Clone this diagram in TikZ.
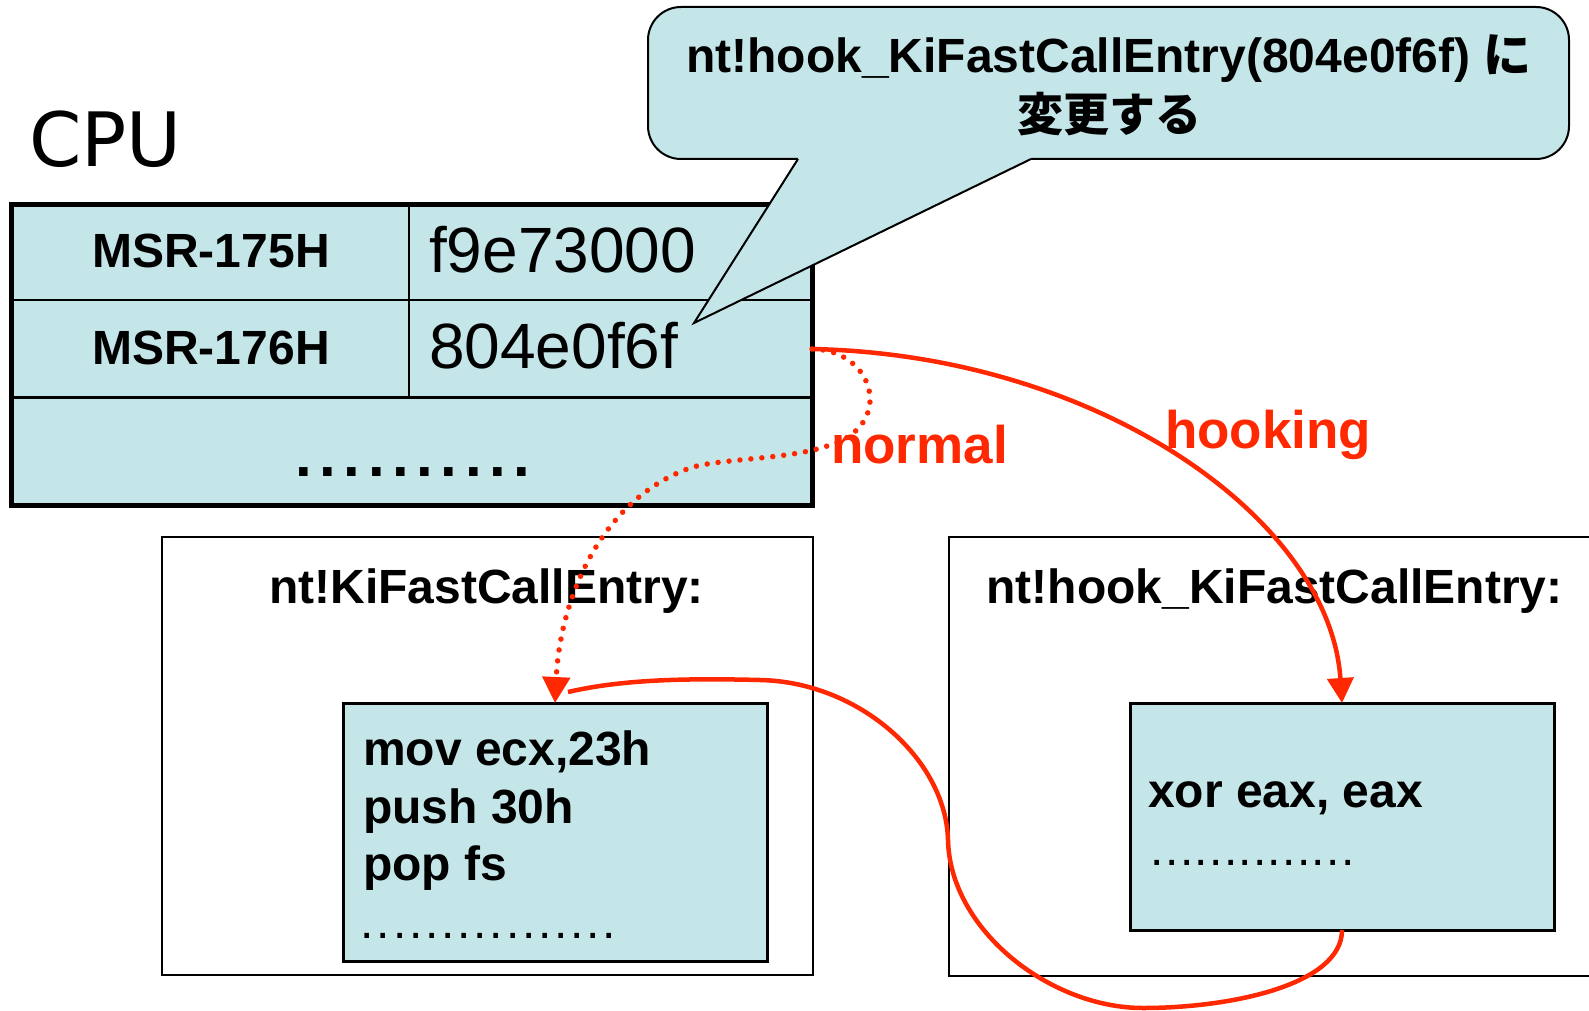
\documentclass[tikz,border=0pt]{standalone}
\usepackage{fontspec}
\setmainfont{Liberation Sans}
\newfontfamily\dejavu{DejaVu Sans}
\newfontfamily\cjk{Noto Sans CJK JP}
\usetikzlibrary{arrows.meta}
\definecolor{cellfill}{RGB}{196,230,232}
\definecolor{hookred}{RGB}{255,40,0}
\newcommand\dk[1]{.\kern#1}
\begin{document}
\begin{tikzpicture}[x=1pt,y=-1pt,
  tablebox/.style={draw, line width=5pt, fill=cellfill, inner sep=0pt, outer sep=0pt},
  framebox/.style={draw, line width=2pt, fill=white, inner sep=0pt, outer sep=0pt},
  codebox/.style={draw, line width=3pt, fill=cellfill, inner sep=0pt, outer sep=0pt},
  callbox/.style={draw, line width=2pt, fill=cellfill, rounded corners=33pt, inner sep=0pt, outer sep=0pt},
  btxt/.style={inner sep=0pt, font=\fontsize{48}{56}\selectfont\bfseries},
  rtxt/.style={inner sep=0pt, font=\fontsize{48}{56}\selectfont},
  valtxt/.style={inner sep=0pt, font=\fontsize{64}{70}\selectfont},
  redlbl/.style={inner sep=0pt, text=hookred, font=\fontsize{53}{60}\selectfont\bfseries},
  hookarrow/.style={draw=hookred, line width=4.5pt, -{Triangle[length=25pt,width=26pt]}},
  normalarrow/.style={draw=hookred, line width=5.5pt, line cap=round, dash pattern=on 0pt off 11pt, -{Triangle[length=26pt,width=27pt]}},
  retline/.style={draw=hookred, line width=4.5pt}
]
\useasboundingbox (0,0) rectangle (1589,1011);

% CPU label
\node[inner sep=0pt, anchor=base west, font=\dejavu\fontsize{75}{80}\selectfont] (cpu) at (29,167) {CPU};

% MSR table
\node[tablebox, minimum width=801pt, minimum height=301pt] (tbl) at (411.5,354.5) {};
\draw[line width=2pt] (11,300) -- (812,300);
\draw[line width=3pt] (11,397) -- (812,397);
\draw[line width=2pt] (409,204) -- (409,397);
\node[btxt, anchor=base] (msr175) at (211,267) {MSR-175H};
\node[btxt, anchor=base] (msr176) at (211,364) {MSR-176H};
\node[valtxt, anchor=base west] (val175) at (429,272) {f9e73000};
\node[valtxt, anchor=base west] (val176) at (429,368) {804e0f6f};
\node[inner sep=0pt, anchor=base west, font=\fontsize{60}{66}\selectfont\bfseries] (tbldots) at (295,476)
  {\dk{7.6pt}\dk{7.6pt}\dk{7.6pt}\dk{7.6pt}\dk{7.6pt}\dk{7.6pt}\dk{7.6pt}\dk{7.6pt}\dk{7.6pt}.};

% original function
\node[framebox, minimum width=651pt, minimum height=438pt] (orgbox) at (487.5,756) {};
\node[btxt, anchor=base] (orgtitle) at (486.5,603) {nt!KiFastCallEntry:};
\node[codebox, minimum width=424pt, minimum height=258pt] (orgcode) at (555,832) {};
\node[btxt, anchor=base west] (org1) at (363,765) {mov ecx,23h};
\node[btxt, anchor=base west] (org2) at (363,823) {push 30h};
\node[btxt, anchor=base west] (org3) at (363,880) {pop fs};
\node[rtxt, anchor=base west] (orgdots) at (360.6,938)
  {\dk{2.8pt}\dk{2.8pt}\dk{2.8pt}\dk{2.8pt}\dk{2.8pt}\dk{2.8pt}\dk{2.8pt}\dk{2.8pt}\dk{2.8pt}\dk{2.8pt}\dk{2.8pt}\dk{2.8pt}\dk{2.8pt}\dk{2.8pt}\dk{2.8pt}.};

% hook function
\node[framebox, minimum width=661pt, minimum height=439pt] (hookbox) at (1279.5,756.5) {};
\node[btxt, anchor=base] (hooktitle) at (1274.5,603) {nt!hook\_KiFastCallEntry:};
\node[codebox, minimum width=424pt, minimum height=227pt] (hookcode) at (1342,816.5) {};
\node[btxt, anchor=base west] (hook1) at (1148,807) {xor eax, eax};
\node[rtxt, anchor=base west] (hookdots) at (1150.6,865)
  {\dk{1.3pt}\dk{1.3pt}\dk{1.3pt}\dk{1.3pt}\dk{1.3pt}\dk{1.3pt}\dk{1.3pt}\dk{1.3pt}\dk{1.3pt}\dk{1.3pt}\dk{1.3pt}\dk{1.3pt}\dk{1.3pt}.};

% connectors
\coordinate (src) at (812,349);
\coordinate (rend) at (568,692);
\draw[hookarrow] (src) .. controls (1100,355) and (1330,520) .. (hookcode.north);
\draw[normalarrow] (src) .. controls (875,350) and (895,425) .. (830,445)
  .. controls (790,460) and (720,458) .. (690,468)
  .. controls (600,500) and (560,600) .. (orgcode.north);
\draw[retline] (hookcode.south) .. controls (1342,985) and (1230,1008) .. (1143,1008)
  .. controls (1050,1008) and (950,930) .. (948,840)
  .. controls (946,760) and (860,682) .. (760,680)
  .. controls (680,678) and (620,680) .. (rend);

\node[redlbl, anchor=base west] (normal) at (831,463) {normal};
\node[redlbl, anchor=base west] (hooking) at (1165,448) {hooking};

% callout
\node[callbox, minimum width=921pt, minimum height=152pt] (callout) at (1108.5,83) {};
\fill[cellfill] (798,159) -- (694,323) -- (1031,159) -- (1031,155) -- (798,155) -- cycle;
\draw[line width=2pt, line join=miter] (798,159) -- (694,323) -- (1031,159);
\node[btxt, anchor=base] (call1) at (1109,73) {nt!hook\_KiFastCallEntry(804e0f6f) {\cjk に}};
\node[inner sep=0pt, anchor=base, font=\cjk\fontsize{46}{54}\selectfont\bfseries] (call2) at (1109,132) {変更する};
\end{tikzpicture}
\end{document}
